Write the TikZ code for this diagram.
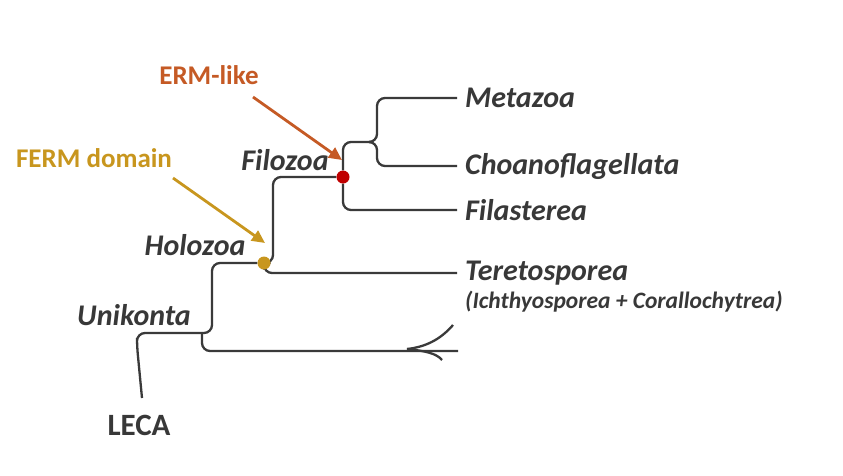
\documentclass[tikz,border=0pt]{standalone}
\usepackage{fontspec}
\setmainfont{Carlito}
\usetikzlibrary{arrows.meta,positioning}
\definecolor{branchgray}{HTML}{3A3A3A}
\definecolor{taxongray}{HTML}{383838}
\definecolor{ermorange}{HTML}{C55A25}
\definecolor{fermgold}{HTML}{C8961E}
\definecolor{dotred}{HTML}{C00000}
\pgfdeclarelayer{background}
\pgfsetlayers{background,main}

\begin{document}
\begin{tikzpicture}[
  x=1pt, y=-1pt,
  branch/.style={draw=branchgray, line width=2.3pt, rounded corners=8pt},
  taxon/.style={font=\fontsize{30}{34}\selectfont\bfseries\itshape, text=taxongray, anchor=west, inner sep=0pt},
  subtaxon/.style={font=\fontsize{23.5}{26}\selectfont\bfseries\itshape, text=taxongray, anchor=west, inner sep=0pt},
  clade/.style={font=\fontsize{30}{34}\selectfont\bfseries\itshape, text=taxongray, inner sep=0pt},
  gainlabel/.style={font=\fontsize{27}{30}\selectfont\bfseries, text=#1, inner sep=0pt},
  marker/.style={circle, fill=#1, inner sep=0pt, minimum size=13pt},
  gain/.style={-{Triangle[length=13pt,width=12pt]}, line width=2.8pt, draw=#1}
]
\useasboundingbox (0,0) rectangle (843,475);

% branch points
\coordinate (leca) at (142,398);
\coordinate (unikonta) at (202,333);
\node[marker=fermgold] (holozoa) at (264,263) {};
\node[marker=dotred] (filozoa) at (343,177) {};
\coordinate (choanozoa) at (373,142);
\coordinate (fork) at (407,349);
\coordinate (forkend) at (458,351);
\coordinate (forkup) at (453,325);
\coordinate (forkdown) at (442,360);

% taxa
\node[taxon] (metazoa) at (465,98) {Metazoa};
\node[taxon] (choano) at (465,166) {Choanoflagellata};
\node[taxon] (filasterea) at (465,210) {Filasterea};
\node[taxon] (teretosporea) at (465,273) {Teretosporea};
\node[subtaxon] (ichthyo) at (465,302) {(Ichthyosporea + Corallochytrea)};

% clades
\node[clade] (filozoalabel) at (285,160) {Filozoa};
\node[clade] (holozoalabel) at (195,245) {Holozoa};
\node[clade] (unikontalabel) at (134,315) {Unikonta};
\node[font=\fontsize{31}{34}\selectfont\bfseries, text=taxongray, inner sep=0pt] (lecalabel) at (139,425) {LECA};

% branches
\begin{pgfonlayer}{background}
\draw[branch] (leca) -- ++(-5,-52) |- (unikonta);
\draw[branch] (unikonta) -- ++(10,0) |- (holozoa);
\draw[branch] (unikonta) |- (forkend);
\draw[branch] (holozoa) -- ++(9,0) |- (filozoa);
\draw[branch] (holozoa) |- ([xshift=-8pt]teretosporea.west);
\draw[branch] (filozoa) |- (choanozoa);
\draw[branch] (filozoa) |- ([xshift=-8pt]filasterea.west);
\draw[branch] (choanozoa) -- ++(4,0) |- ([xshift=-8pt]metazoa.west);
\draw[branch] (choanozoa) -- ++(4,0) |- ([xshift=-8pt]choano.west);
\draw[branch] (fork) .. controls (425,347) and (440,340) .. (forkup);
\draw[branch] (fork) .. controls (425,351) and (436,353) .. (forkdown);
\end{pgfonlayer}

% gains
\node[gainlabel=ermorange] (erm) at (209,75) {ERM-like};
\node[gainlabel=fermgold] (ferm) at (94,158) {FERM domain};
\coordinate (ermtail) at (253,97);
\coordinate (ermtip) at (342,160);
\coordinate (fermtail) at (173,178);
\coordinate (fermtip) at (265,243);
\draw[gain=ermorange] (ermtail) -- (ermtip);
\draw[gain=fermgold] (fermtail) -- (fermtip);
\end{tikzpicture}
\end{document}
